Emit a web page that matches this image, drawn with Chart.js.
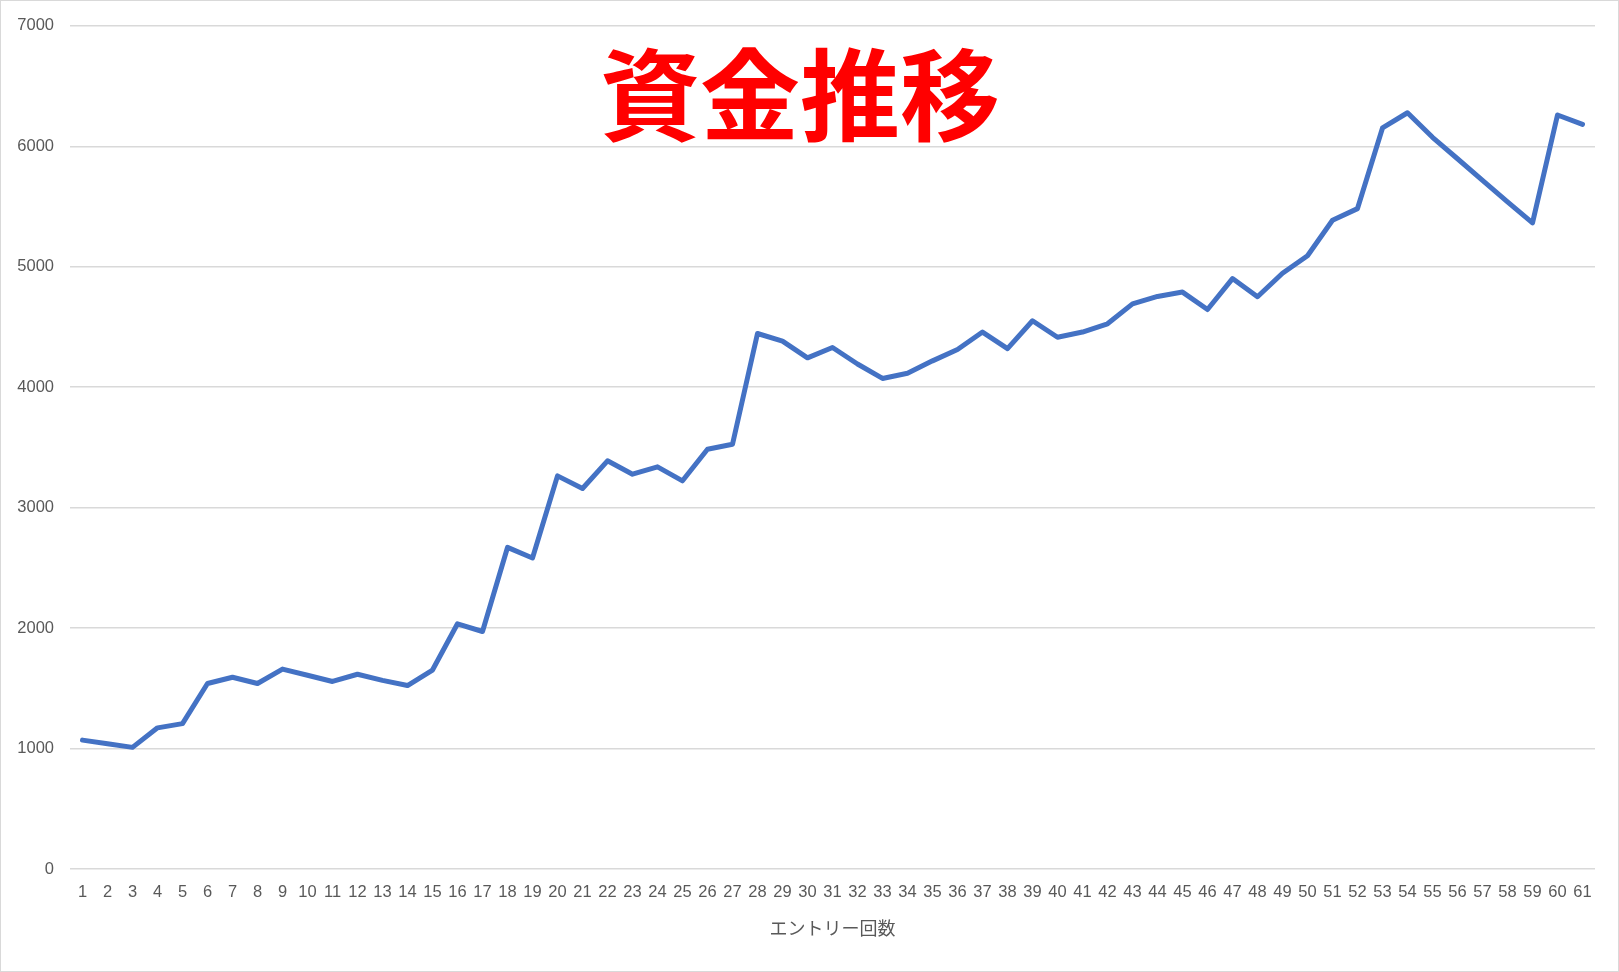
<!DOCTYPE html>
<html>
<head>
<meta charset="utf-8">
<script src="https://cdn.jsdelivr.net/npm/chart.js@4/dist/chart.umd.min.js"></script>
<style>
  body { margin: 0; background: #fff; }
  #wrap {
    position: relative;
    width: 1619px;
    height: 972px;
    box-shadow: inset 0 0 0 1px #d9d9d9;
  }
</style>
</head>
<body>
<div id="wrap"><canvas id="fundChart"></canvas></div>
<script>
// entry number 1..61
const entries = [
  1, 2, 3, 4, 5, 6, 7, 8, 9, 10, 11, 12, 13, 14, 15, 16, 17, 18, 19, 20,
  21, 22, 23, 24, 25, 26, 27, 28, 29, 30, 31, 32, 33, 34, 35, 36, 37, 38, 39, 40,
  41, 42, 43, 44, 45, 46, 47, 48, 49, 50, 51, 52, 53, 54, 55, 56, 57, 58, 59, 60, 61
];

// funds after each entry
const funds = [
  1070, 1040, 1010, 1172, 1207, 1540, 1592, 1540, 1660, 1609,
  1557, 1617, 1566, 1523, 1652, 2036, 1972, 2670, 2582, 3264,
  3159, 3389, 3278, 3339, 3223, 3485, 3527, 4446, 4383, 4244,
  4330, 4193, 4073, 4116, 4219, 4313, 4458, 4321, 4552, 4415,
  4458, 4527, 4692, 4754, 4790, 4645, 4902, 4751, 4946, 5092,
  5386, 5483, 6153, 6279, 6075, 5897, 5718, 5539, 5365, 6260, 6182
];

const yTicks = [0, 1000, 2000, 3000, 4000, 5000, 6000, 7000];

const chartTitle = '資金推移';
const xTitle = 'エントリー回数';

const tickColor = '#595959';
const gridColor = '#d9d9d9';

// title sits over the plot area like Excel's overlay title
const overlayTitle = {
  id: 'overlayTitle',
  afterDraw(chart) {
    const ctx = chart.ctx;
    ctx.save();
    ctx.fillStyle = '#ff0000';
    ctx.font = 'bold 100px "Noto Sans CJK JP"';
    ctx.textAlign = 'center';
    ctx.textBaseline = 'middle';
    ctx.fillText(chartTitle, 800, 95);
    ctx.restore();
  }
};

const ctx = document.getElementById('fundChart').getContext('2d');
const fundChart = new Chart(ctx, {
  type: 'line',
  data: {
    labels: entries,
    datasets: [{
      label: '資金',
      data: funds,
      borderColor: '#4472c4',
      backgroundColor: '#4472c4',
      borderWidth: 5,
      borderJoinStyle: 'round',
      borderCapStyle: 'round',
      pointRadius: 0,
      tension: 0
    }]
  },
  options: {
    responsive: true,
    maintainAspectRatio: false,
    animation: false,
    layout: {
      padding: { top: 25, right: 24, bottom: 0, left: 0 }
    },
    plugins: {
      legend: { display: false },
      tooltip: { enabled: false }
    },
    scales: {
      x: {
        offset: true,
        grid: { display: false, drawTicks: false },
        border: { display: false },
        ticks: {
          color: tickColor,
          font: { family: 'Liberation Sans', size: 16.5 },
          autoSkip: false,
          maxRotation: 0,
          padding: 14
        },
        title: {
          display: true,
          text: xTitle,
          color: tickColor,
          font: { family: '"Noto Sans CJK JP"', size: 18 },
          padding: { top: 0, bottom: 33 }
        },
        afterFit(scale) { scale.height = 103; }
      },
      y: {
        min: 0,
        max: 7000,
        afterBuildTicks(scale) {
          scale.ticks = yTicks.map(v => ({ value: v }));
        },
        grid: { color: gridColor, lineWidth: 1.5, drawTicks: false },
        border: { display: false },
        ticks: {
          color: tickColor,
          font: { family: 'Liberation Sans', size: 16.5 },
          padding: 16,
          callback: v => String(v)
        },
        afterFit(scale) { scale.width = 70; }
      }
    }
  },
  plugins: [overlayTitle]
});
</script>
</body>
</html>
